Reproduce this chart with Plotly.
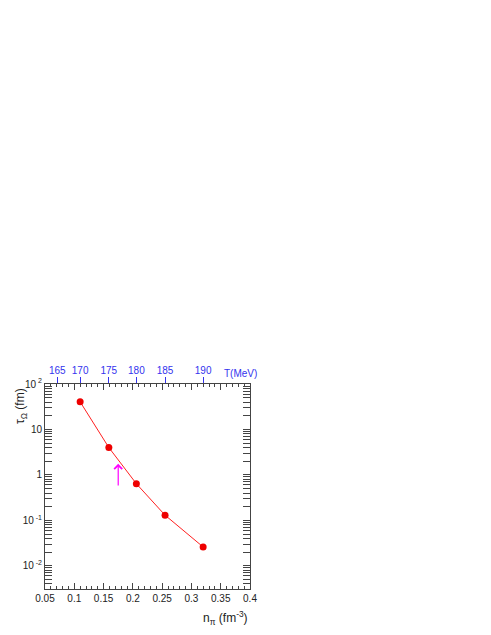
import numpy as np
import plotly.graph_objects as go

# data
n_pi = [0.110, 0.159, 0.206, 0.255, 0.320]
tau_omega = [40.5, 4.0, 0.64, 0.13, 0.026]

# top axis: temperature labels and the n_pi where they sit
T_labels = ["165", "170", "175", "180", "185", "190"]
n_at_T = [0.071, 0.110, 0.159, 0.206, 0.255, 0.320]

# arrow marker (n_pi, tail, tip)
arrow_n = 0.175
arrow_tail = 0.54
arrow_tip = 1.75

font = dict(family="Liberation Sans, Arial", size=10, color="#222")
blue = "#3333ee"

fig = go.Figure()
fig.add_trace(go.Scatter(
    x=n_pi, y=tau_omega, mode="lines+markers",
    line=dict(color="#ff2020", width=1),
    marker=dict(color="#ee0000", size=7),
    showlegend=False,
))
# invisible trace to activate the top axis
fig.add_trace(go.Scatter(x=[n_pi[0]], y=[tau_omega[0]], xaxis="x2",
                         mode="markers", marker=dict(opacity=0),
                         showlegend=False, hoverinfo="skip"))

minor_y = [m * 10.0 ** k for k in range(-3, 3) for m in range(2, 10)]

# page body adds an 8px offset, so margins are shifted by that much
fig.update_layout(
    width=491, height=635,
    margin=dict(l=37, r=249, t=376, b=54),
    paper_bgcolor="white", plot_bgcolor="white",
    font=font,
    xaxis=dict(
        range=[0.05, 0.4], tickvals=[0.05, 0.1, 0.15, 0.2, 0.25, 0.3, 0.35, 0.4],
        ticktext=["0.05", "0.1", "0.15", "0.2", "0.25", "0.3", "0.35", "0.4"],
        ticks="inside", ticklen=6, tickcolor="#444", automargin=False,
        showline=True, linecolor="#444", linewidth=1, mirror="allticks",
        showgrid=False, zeroline=False,
        minor=dict(dtick=0.01, ticks="inside", ticklen=3, tickcolor="#444"),
    ),
    xaxis2=dict(
        overlaying="x", side="top", range=[0.05, 0.4],
        tickvals=n_at_T, ticktext=T_labels, automargin=False,
        ticks="outside", ticklen=6, tickcolor=blue, ticklabelstandoff=-1,
        tickfont=dict(family="Liberation Sans, Arial", size=10, color=blue),
        showgrid=False, zeroline=False, showline=False,
    ),
    yaxis=dict(
        type="log", range=[-2.51, 2.0], automargin=False,
        tickvals=[0.01, 0.1, 1, 10, 100],
        ticktext=["10<sup> -2</sup>", "10<sup> -1</sup>", "1", "10", "10<sup> 2</sup>"],
        ticks="inside", ticklen=7, tickcolor="#444",
        showline=True, linecolor="#444", linewidth=1, mirror="allticks",
        showgrid=False, zeroline=False,
        minor=dict(tickvals=minor_y, ticks="inside", ticklen=3, tickcolor="#444"),
    ),
)

fig.add_annotation(
    x=arrow_n, y=np.log10(arrow_tip), ax=arrow_n, ay=np.log10(arrow_tail),
    xref="x", yref="y", axref="x", ayref="y",
    showarrow=True, arrowhead=4, arrowsize=1.3, arrowwidth=1.2,
    arrowcolor="#ff00ff", text="",
)
fig.add_annotation(
    x=0.383, y=1, xref="x", yref="paper", yanchor="middle", yshift=11,
    text="T(MeV)", showarrow=False,
    font=dict(family="Liberation Sans, Arial", size=10, color=blue),
)
fig.add_annotation(
    x=1, y=0, xref="paper", yref="paper", xanchor="right", yanchor="top",
    yshift=-18, text="n<sub>π</sub> (fm<sup>-3</sup>)", showarrow=False,
    font=dict(family="Liberation Sans, Arial", size=12, color="#222"),
)
fig.add_annotation(
    text="τ<sub>Ω</sub> (fm)", textangle=-90, showarrow=False,
    xref="paper", yref="paper", x=0, y=1, xanchor="right", yanchor="top",
    xshift=-14, yshift=-2,
    font=dict(family="Liberation Sans, Arial", size=12, color="#222"),
)

fig.write_html("out.html")
